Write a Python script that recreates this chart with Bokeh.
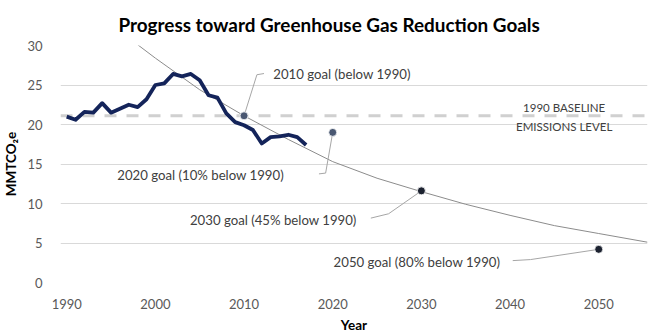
from bokeh.plotting import figure
from bokeh.models import Range1d, FixedTicker, Span, Label, ColumnDataSource
from bokeh.embed import file_html
from bokeh.resources import INLINE

# ---------------- data ----------------
years = list(range(1990, 2018))
emissions = [21.0, 20.6, 21.6, 21.5, 22.7, 21.5, 22.0, 22.5, 22.2, 23.2,
             25.0, 25.2, 26.4, 26.1, 26.4, 25.6, 23.7, 23.4, 21.4, 20.3,
             19.9, 19.3, 17.6, 18.4, 18.5, 18.7, 18.4, 17.4]
baseline_1990 = 21.1
goal_years = [2010, 2020, 2030, 2050]
goal_values = [21.1, 19.0, 11.6, 4.2]
goal_labels = ["2010 goal (below 1990)", "2020 goal (10% below 1990)",
               "2030 goal (45% below 1990)", "2050 goal (80% below 1990)"]
trend_years = [1998, 2000, 2005, 2010, 2015, 2020, 2025, 2030, 2035, 2040, 2045, 2050, 2055.5]
trend_values = [30.1, 28.4, 24.4, 21.1, 18.1, 15.3, 13.2, 11.5, 9.9, 8.5, 7.2, 6.2, 5.1]
baseline_label = ["1990 BASELINE", "EMISSIONS LEVEL"]
x_ticks = [1990, 2000, 2010, 2020, 2030, 2040, 2050]
y_ticks = [0, 5, 10, 15, 20, 25, 30]
title_text = "Progress toward Greenhouse Gas Reduction Goals"
x_label = "Year"
y_label = "MMTCO\u2082e"

# ---------------- styles / layout ----------------
FONT = "Lato"
TXT = "#404040"
goal_colors = ["#4a5872", "#4a5872", "#1c2230", "#1c2230"]
# label anchor (data units) and leader-line vertices per goal
label_pos = [(2013.3, 26.45, "left"), (2005.1, 13.6, "center"),
             (2013.3, 7.95, "center"), (2029.5, 2.55, "center")]
leaders = [
    ([2010, 2011.45, 2012.25], [21.1, 26.3, 26.45]),
    ([2020, 2019.2, 2018.45], [19.0, 13.85, 13.75]),
    ([2030, 2026.3, 2024.3], [11.6, 8.7, 8.15]),
    ([2050, 2042.3, 2040.3], [4.2, 2.9, 2.77]),
]

p = figure(width=661, height=335, output_backend="svg", toolbar_location=None,
           x_range=Range1d(1989.3, 2055.5), y_range=Range1d(0, 30),
           min_border_left=60, min_border_right=14, min_border_top=45,
           min_border_bottom=52, background_fill_color="white",
           border_fill_color="white")
p.outline_line_color = None

p.title.text = title_text
p.title.align = "left"
p.title.offset = 58
p.title.text_font = FONT
p.title.text_font_size = "18.9px"
p.title.text_font_style = "bold"
p.title.text_color = "black"
p.title.standoff = 19

# axes
for ax in (p.xaxis[0], p.yaxis[0]):
    ax.axis_line_color = None
    ax.major_tick_line_color = None
    ax.minor_tick_line_color = None
    ax.major_label_text_font = FONT
    ax.major_label_text_font_size = "13px"
    ax.major_label_text_color = "#595959"
    ax.axis_label_text_font = FONT
    ax.axis_label_text_font_style = "bold"
    ax.axis_label_text_font_size = "13.5px"
    ax.axis_label_text_color = "black"
p.xaxis.ticker = FixedTicker(ticks=x_ticks)
p.yaxis.ticker = FixedTicker(ticks=y_ticks)
p.xaxis.major_label_standoff = 10
p.yaxis.major_label_standoff = 12
p.xaxis.axis_label = x_label
p.yaxis.axis_label = y_label
p.xaxis.axis_label_standoff = 5
p.yaxis.axis_label_standoff = 5

p.xgrid.grid_line_color = None
p.ygrid.ticker = FixedTicker(ticks=y_ticks)
p.ygrid.grid_line_color = "#d9d9d9"
p.ygrid.grid_line_width = 1

# baseline (kept beneath the data)
p.add_layout(Span(location=baseline_1990, dimension="width", line_color="#d0d0d0",
                  line_width=3, line_dash="12 10", level="underlay"))

# trend curve
p.line(trend_years, trend_values, line_color="#8c8c8c", line_width=1)

# emissions
p.line(years, emissions, line_color="#14245a", line_width=3.8, line_join="round")

# leader lines
for lx, ly in leaders:
    p.line(lx, ly, line_color="#a6a6a6", line_width=1)

# goals
src = ColumnDataSource(dict(x=goal_years, y=goal_values, c=goal_colors))
p.scatter("x", "y", source=src, size=8, fill_color="c", line_color="white",
          line_width=0.8)

for (lx, ly, al), txt in zip(label_pos, goal_labels):
    p.add_layout(Label(x=lx, y=ly, text=txt, text_font=FONT, text_font_size="13.2px",
                       text_color=TXT, text_align=al, text_baseline="middle"))

for yv, txt in zip([22.2, 19.8], baseline_label):
    p.add_layout(Label(x=2046.1, y=yv, text=txt, text_font=FONT, text_font_size="11.5px",
                       text_color=TXT, text_align="center", text_baseline="middle"))

open("out.html", "w").write(file_html(p, INLINE))
